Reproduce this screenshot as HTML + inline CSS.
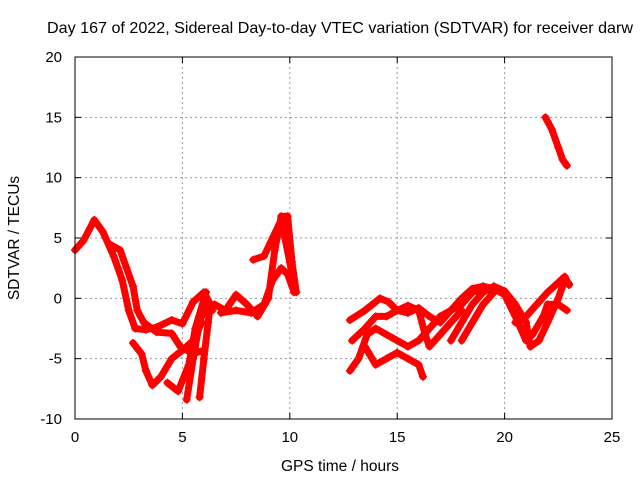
<!DOCTYPE html>
<html><head><meta charset="utf-8"><style>
body{margin:0;background:#fff}
svg{display:block;font-family:"Liberation Sans",sans-serif}
</style></head><body>
<svg id="chart" width="640" height="480" viewBox="0 0 640 480">
<rect width="640" height="480" fill="#fff"/>
<text x="47" y="33" font-size="16" textLength="586" lengthAdjust="spacingAndGlyphs">Day 167 of 2022, Sidereal Day-to-day VTEC variation (SDTVAR) for receiver darw</text>
<g id="grid"></g>
<g id="ticks"></g>
<g id="plot"></g>
<rect x="75" y="57" width="537" height="362" fill="none" stroke="#000" stroke-width="1"/>
<text x="340" y="471" font-size="15.5" text-anchor="middle">GPS time / hours</text>
<text transform="translate(19,238) rotate(-90)" font-size="15.5" text-anchor="middle">SDTVAR / TECUs</text>
</svg>
<script>
const xTicks=[0,5,10,15,20,25];
const yTicks=[-10,-5,0,5,10,15,20];
const track1=[[0,4],[0.4,4.8],[0.9,6.5],[1.3,5.5],[1.8,3.5],[2.2,1.5],[2.5,-1],[2.8,-2.5],[3.3,-2.6],[3.8,-2.4],[4.5,-1.8],[5,-2.1],[5.5,-0.3],[6,0.5],[6.3,-0.5]];
const track2=[[1.6,4.5],[2.1,4],[2.4,2.5],[2.7,1],[2.9,-1],[3.2,-2],[3.8,-2.8],[4.5,-2.9],[4.9,-4],[5.5,-4.6],[6,-4.3]];
const track3=[[2.7,-3.7],[3.1,-4.6],[3.3,-6],[3.6,-7.2],[4,-6.5],[4.5,-5],[5,-4.3],[5.5,-3.5],[5.9,-2]];
const track4=[[4.3,-7],[4.8,-7.7],[5.3,-5.5],[5.6,-2.5],[6.1,0.5]];
const track5=[[5.2,-8.4],[5.5,-5],[5.8,-2],[6.1,-0.5],[6.4,-1]];
const track6=[[5.8,-8.2],[6,-5],[6.2,-2],[6.3,-0.5]];
const track7=[[6.5,-0.5],[7,-1],[7.5,0.3],[8,-0.5],[8.5,-1.5],[9,0],[9.3,4],[9.6,6.8],[9.9,6.8],[10.1,3],[10.3,0.5]];
const track8=[[8.3,3.2],[8.8,3.5],[9.2,5],[9.6,6.5],[10,3],[10.2,1]];
const track9=[[6.8,-1.2],[7.5,-1],[8.2,-1.2],[8.8,-0.5],[9.2,1.5],[9.6,2.5],[9.9,2],[10.2,0.5]];
const track10=[[12.8,-1.8],[13.5,-1],[14.2,0],[14.6,-0.3],[15,-1],[15.5,-1.2],[16,-0.8],[16.5,-1.5],[17,-2],[17.5,-1],[18,0],[18.5,0.8],[19,1],[19.5,0.8],[20,0.3],[20.5,-1.5],[21,-3.5],[21.3,-3],[21.8,-1.5],[22,-0.5],[22.5,-0.5],[22.9,-1]];
const track11=[[12.8,-6],[13.2,-5],[13.6,-3],[14,-2.5],[14.5,-3],[15,-3.5],[15.5,-4],[16,-3.5],[16.5,-2.5],[17,-1.5],[17.5,-1],[18,-0.5],[18.5,0.5],[19,0.8]];
const track12=[[12.9,-3.5],[13.5,-2.5],[14,-1.5],[14.5,-1.5],[15,-1],[15.5,-0.6],[16,-1],[16.3,-3],[16.5,-4],[17,-3],[17.5,-2],[18,-1]];
const track13=[[13.5,-4],[14,-5.5],[14.5,-5],[15,-4.5],[15.5,-5],[16,-5.5],[16.2,-6.5]];
const track14=[[17.5,-3.5],[18,-2],[18.5,-0.5],[19,0.5],[19.5,1],[20,0.6],[20.5,-0.5],[21,-2],[21.2,-4],[21.6,-3.5],[22,-2],[22.5,0],[22.8,1.5],[23,1.2]];
const track15=[[20.5,-2],[21,-1.5],[21.5,-0.5],[22,0.5],[22.5,1.3],[22.8,1.8],[23,1.1]];
const track16=[[21.9,15],[22.2,14],[22.5,12.5],[22.7,11.5],[22.9,11]];
const track17=[[18,-3.5],[18.5,-2],[19,-0.5],[19.5,0.5]];
const tracks=[track1,track2,track3,track4,track5,track6,track7,track8,track9,track10,track11,track12,track13,track14,track15,track16,track17];

const X0=75,X1=612,Y0=419,Y1=57;
const sx=t=>X0+(t-0)/(25-0)*(X1-X0);
const sy=v=>Y0-(v+10)/30*(Y0-Y1);
const NS="http://www.w3.org/2000/svg";
function mk(tag,attrs,parent){const e=document.createElementNS(NS,tag);for(const k in attrs)e.setAttribute(k,attrs[k]);parent.appendChild(e);return e;}
const grid=document.getElementById('grid'),ticks=document.getElementById('ticks'),plot=document.getElementById('plot');
xTicks.forEach(t=>{
  const x=sx(t);
  if(t>0&&t<25){const g=mk('line',{x1:x,x2:x,y1:Y1,y2:Y0,stroke:'#999','stroke-dasharray':'2,3'},grid);
  
  }
  mk('line',{x1:x,x2:x,y1:Y0,y2:Y0-6,stroke:'#000'},ticks);
  mk('line',{x1:x,x2:x,y1:Y1,y2:Y1+6,stroke:'#000'},ticks);
  const l=mk('text',{x:x,y:442,'font-size':15,'text-anchor':'middle'},ticks);l.textContent=t;
  
  
});
yTicks.forEach(v=>{
  const y=sy(v);
  if(v>-10&&v<20){const g=mk('line',{x1:X0,x2:X1,y1:y,y2:y,stroke:'#999','stroke-dasharray':'2,3'},grid);
  
  }
  mk('line',{x1:X0,x2:X0+6,y1:y,y2:y,stroke:'#000'},ticks);
  mk('line',{x1:X1,x2:X1-6,y1:y,y2:y,stroke:'#000'},ticks);
  const l=mk('text',{x:62,y:y+5,'font-size':15,'text-anchor':'end'},ticks);l.textContent=v;
  
  
});
tracks.forEach((tr,i)=>{
  const p=mk('polyline',{points:tr.map(d=>sx(d[0])+','+sy(d[1])).join(' '),fill:'none',stroke:'#f00','stroke-width':7,'stroke-linejoin':'round','stroke-linecap':'round'},plot);
  
  
  tr.forEach(d=>{
    const x=sx(d[0]),y=sy(d[1]);
    const m=mk('path',{d:`M${x-4},${y}H${x+4}M${x},${y-4}V${y+4}`,stroke:'#f00','stroke-width':1.5},plot);
    
    
  });
});
</script>
</body></html>
